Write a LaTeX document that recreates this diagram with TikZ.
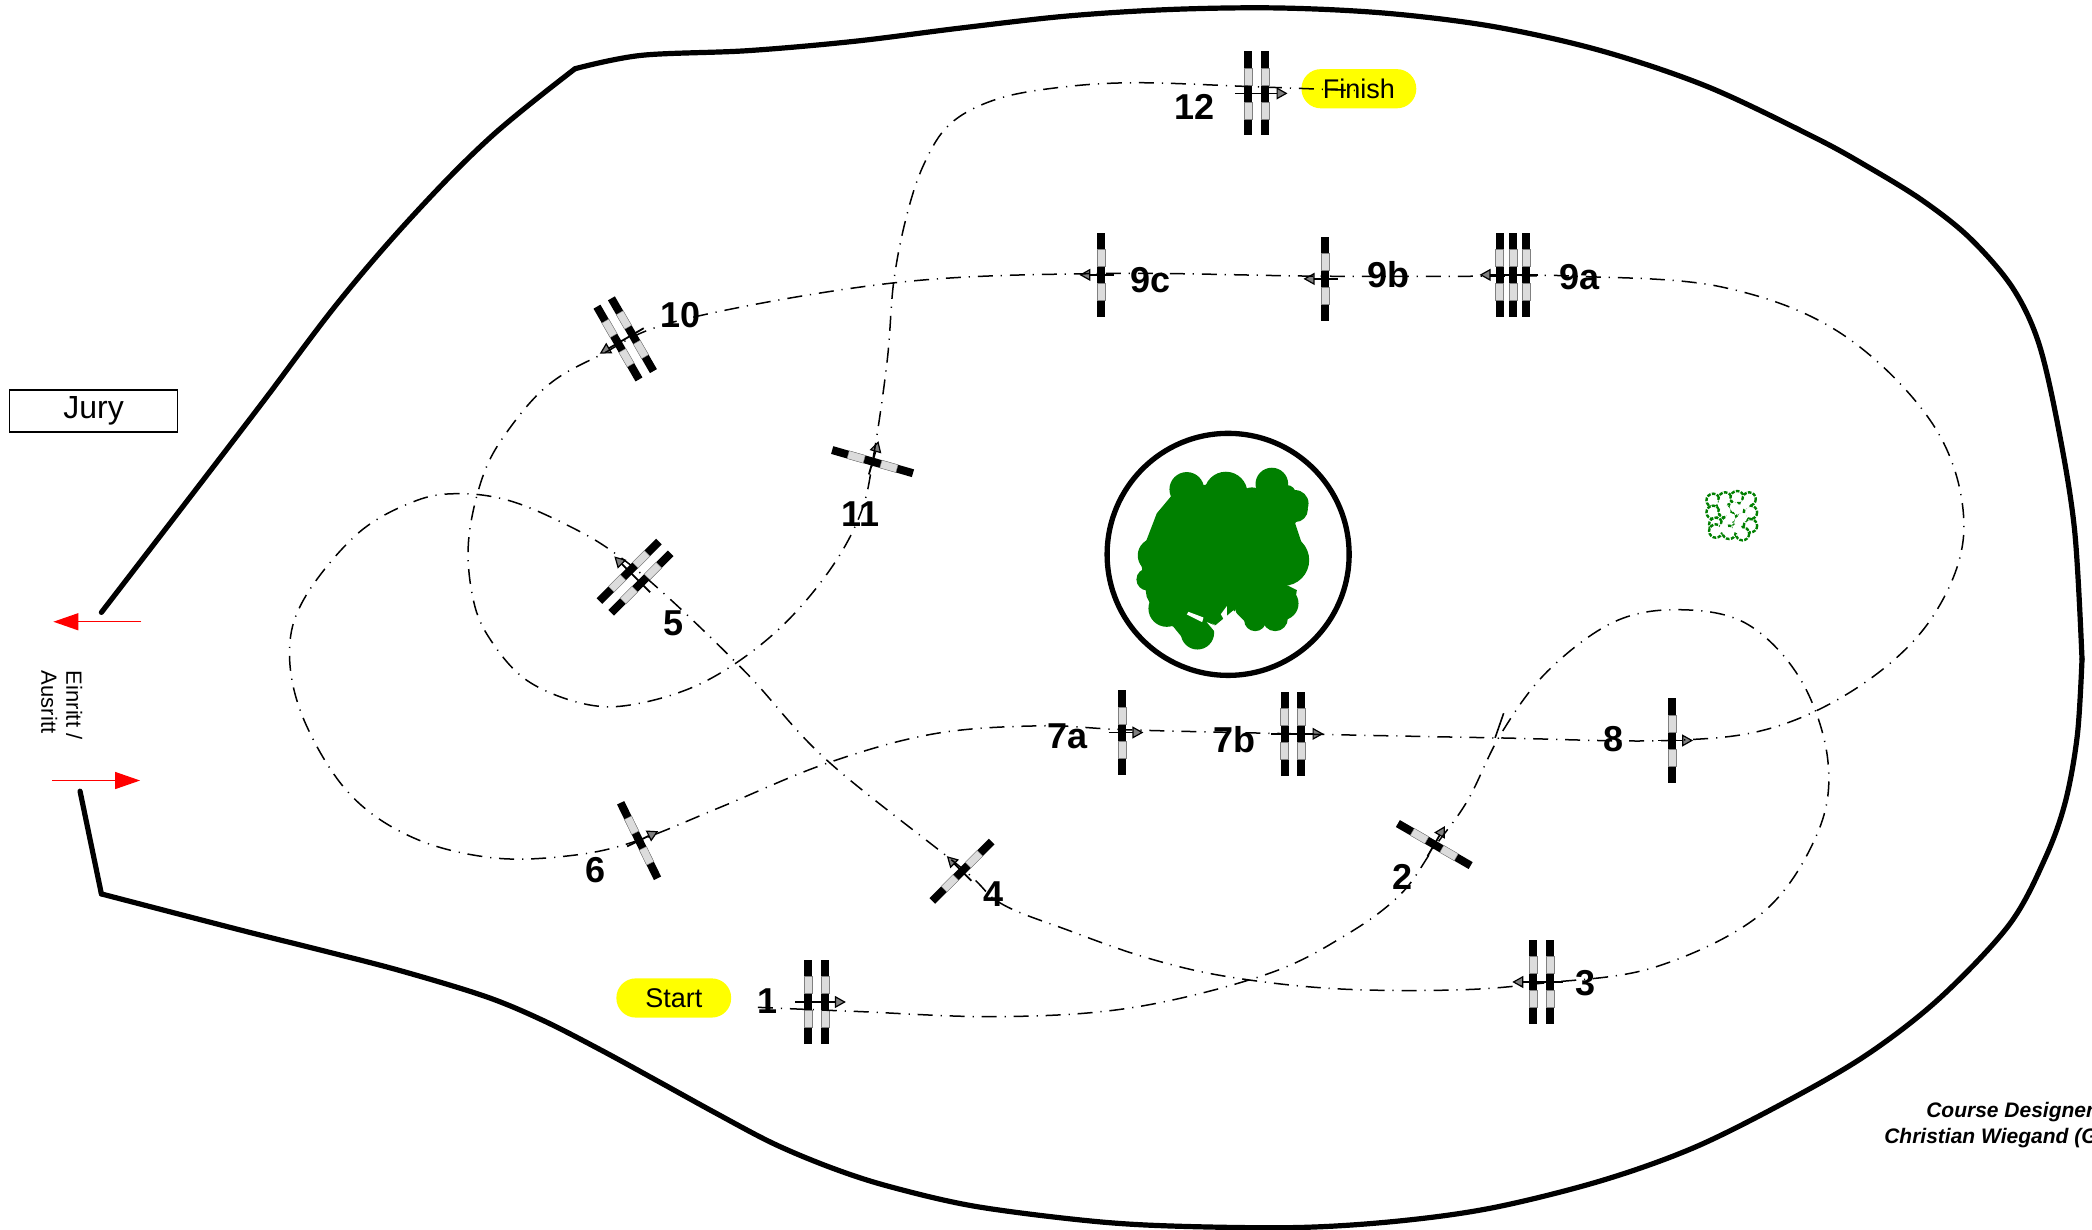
\documentclass[tikz,border=0pt]{standalone}
\usepackage{fontspec}
\setmainfont{Liberation Sans}
\usetikzlibrary{arrows.meta}
\definecolor{treegreen}{HTML}{008000}
\definecolor{pillyellow}{HTML}{FFFF00}
\definecolor{stripe}{HTML}{DCDCDC}
\definecolor{tipgray}{HTML}{808080}
\tikzset{
  ring/.style={line width=2.6pt,line cap=round,line join=round},
  course/.style={line width=.75pt,dash pattern=on 7.5pt off 4pt on .6pt off 3.9pt},
  num/.style={font=\fontsize{18}{19}\selectfont\bfseries,inner sep=0pt},
  pill/.style={fill=pillyellow,rounded corners=9.7pt,minimum width=57.4pt,minimum height=19.6pt,inner sep=0pt,font=\fontsize{13.5}{14}\selectfont},
  jury/.style={draw,line width=.75pt,minimum width=84pt,minimum height=21pt,inner sep=0pt,font=\fontsize{16}{17}\selectfont},
  redarrow/.style={draw=red,line width=.7pt,-{Triangle[length=12.5pt,width=8.5pt,fill=red]}},
  passarrow/.style={line width=.9pt,-{Triangle[length=5.5pt,width=6pt,fill=tipgray,line width=.6pt]}},
  credit/.style={font=\fontsize{10.5}{11}\selectfont\bfseries\itshape,inner sep=0pt},
}
% one fence bar, centred on local x offset #1 and perpendicular to travel
\newcommand{\fencebar}[1]{%
  \fill[black] (#1-3,-31.5) rectangle (#1+3,31.5);
  \filldraw[fill=stripe,draw=gray,line width=.2pt] (#1-3,-19) rectangle (#1+3,-6.5);
  \filldraw[fill=stripe,draw=gray,line width=.2pt] (#1-3,6.5) rectangle (#1+3,19);
}
% x, y, angle of travel, list of bar offsets, arrow tail, arrow head
\newcommand{\fenceat}[6]{%
  \begin{scope}[shift={(#1,#2)},rotate=#3]
    \foreach \o in {#4} {\fencebar{\o}}
    \coordinate (tail) at (#5,0);
    \coordinate (head) at (#6,0);
    \draw[passarrow] (tail) -- (head);
  \end{scope}%
}
\begin{document}
\begin{tikzpicture}[x=0.6671pt,y=-0.6671pt]
\useasboundingbox (0,0) rectangle (1568,921.2);
\fill[white] (0,0) rectangle (1568,921.2);
% arena outline
\draw[ring] plot[smooth,tension=.6] coordinates {(76,459) (136,381) (196.5,302) (254,226) (311,160) (368.6,102) (431,51.5)};
\draw[ring] plot[smooth,tension=.55] coordinates {(431,51.5) (480.5,41.5) (560,38) (640,31) (720,21) (800,12) (880,7) (960,6) (1040,10) (1120,20) (1200,38) (1280,65) (1360,103) (1400,125) (1440.6,150) (1476,178) (1508,215) (1528,257) (1543,322) (1555,398) (1560.5,494)};
\draw[ring] plot[smooth,tension=.55] coordinates {(1560.5,494) (1557,551) (1548,601) (1533,643) (1506,693) (1454,748) (1400,790) (1340,825) (1270,860) (1200,885) (1120,905) (1050,915) (974,920) (880.7,919) (816,915) (730,904) (665.5,889) (622.5,875) (579.5,857) (536,834) (493.4,810.5) (450.4,787) (407.4,765) (364.3,747) (300,727.5) (240,712) (180,697) (76,670)};
\draw[ring] (76,670) -- (60,593);
% central tree in its ring
\draw[line width=2.65pt] (920.5,415.5) circle (90.7);
\begin{scope}[shift={(794.5,307.3)},x=0.1668pt,y=-0.1668pt]
  \fill[treegreen] (340,250) -- (290,310) -- (240,440) -- (260,560) -- (290,620) -- (340,650) -- (385,705) -- (440,700) -- (460,650) -- (520,600) -- (560,640) -- (620,640) -- (700,600) -- (710,540) -- (680,525) -- (745,460) -- (705,340) -- (740,280) -- (680,235) -- (600,240) -- (570,262) -- (440,250) -- cycle;
  \foreach \cx/\cy/\r in {380/238/52,497/250/65,635/222/49,705/280/40,705/298/38,335/335/50,285/436/52,262/508/33,320/595/55,412/668/50,585/630/33,645/625/38,665/580/50,670/450/77,437/257/33,575/272/40,680/252/27}
    {\fill[treegreen] (\cx,\cy) circle [x radius=\r*0.1668pt,y radius=\r*0.1668pt];}
  \fill[white] (385,605) -- (430,622) -- (426,636) -- (380,613) -- cycle;
  \fill[white] (440,636) -- (470,648) -- (462,662) -- cycle;
  \fill[white] (500,588) -- (482,612) -- (492,630) -- (470,648) -- (455,640) -- (500,660) -- cycle;
  \fill[white] (525,598) -- (520,650) -- (545,660) -- cycle;
\end{scope}
% small flowering tree
\foreach \cx/\cy in {1284/375,1293/374,1302/373,1311/374,1284/384,1293/383,1303/382,1312/384,1286/393,1295/392,1304/391,1312/394,1286/398,1296/399,1306/400}
  {\filldraw[fill=white,draw=treegreen,line width=1.2pt,dash pattern=on 1.8pt off .7pt] (\cx,\cy) circle (5);}
\foreach \cx/\cy in {1291/378,1300/380,1308/378,1297/388,1306/388,1292/396,1302/396}
  {\fill[white] (\cx,\cy) circle (3.6);}
% labels that sit beneath the course line
\node[pill] (start) at (505,748) {Start};
\node[pill] (finish) at (1018.5,66.5) {Finish};
\node[jury] (jurybox) at (70.2,308) {\raisebox{-.7pt}{Jury}};
\node[font=\fontsize{11}{12.5}\selectfont,rotate=-90,align=left,inner sep=0pt] (entry) at (46.2,528.5) {Einritt /\\Ausritt};
\coordinate (outL) at (106,466);
\coordinate (outR) at (40,466);
\coordinate (inL) at (39,585);
\coordinate (inR) at (105,585);
\draw[redarrow] (outL) -- (outR);
\draw[redarrow] (inL) -- (inR);
\node[num] (n1) at (575,750) {1};
\node[num] (n2) at (1051,657) {2};
\node[num] (n3) at (1188,737) {3};
\node[num] (n4) at (745,670) {4};
\node[num] (n5) at (505,467) {5};
\node[num] (n6) at (446,652) {6};
\node[num] (n7a) at (800,552) {7a};
\node[num] (n7b) at (925,554) {7b};
\node[num] (n8) at (1209,554) {8};
\node[num] (n9a) at (1184,208) {9a};
\node[num] (n9b) at (1041,206) {9b};
\node[num] (n9c) at (862,210) {9c};
\node[num] (n10) at (510,236) {10};
\node[num] (n11) at (645,385) {11};
\node[num] (n12) at (895,80) {12};
% fences
\fenceat{612}{751}{0}{-6.25,6.25}{-16}{22}
\fenceat{1075}{633}{60}{0}{-10}{16}
\fenceat{1155.5}{736}{180}{-6.25,6.25}{-16}{22}
\fenceat{721}{653}{135}{0}{-10}{16}
\fenceat{476}{432.6}{135}{-6.25,6.25}{-16}{22}
\fenceat{479}{630}{26}{0}{-10}{16}
\fenceat{841}{549}{0}{0}{-10}{16}
\fenceat{969}{550}{0}{-6.25,6.25}{-16}{23}
\fenceat{1253}{555}{0}{0}{-10}{16}
\fenceat{1134}{206}{180}{-10,0,10}{-19}{25}
\fenceat{993}{209}{180}{0}{-10}{16}
\fenceat{825}{206}{180}{0}{-10}{16}
\fenceat{468.6}{254}{210}{-6.25,6.25}{-16}{22}
\fenceat{654}{346}{74}{0}{-10}{16}
\fenceat{942}{70}{0}{-6.25,6.25}{-16}{23}
% course line
\draw[course] plot[smooth,tension=.6] coordinates {
 (568,755) (640,758) (750,762) (850,755) (950,730) (1010,700) (1050,670) (1075,635) (1100,600) (1125,550) (1160,503) (1210,466) (1260,457) (1310,468) (1350,510) (1370,570) (1362,625) (1320,685) (1240,725) (1155,737) (1090,742) (1000,741) (920,732) (860,718) (800,697) (750,677) (720,650) (620,570) (560,505) (500,447) (460,414) (426,394) (383,375.6) (345,370) (311,375.6) (268,400) (228,448.7) (217,490) (228,540) (262,595) (310,628) (370,643) (430,641) (478,630) (540,605) (620,572) (700,550) (780,544) (845,547) (970,550) (1120,553) (1250,555) (1330,545) (1400,510) (1450,460) (1472,395) (1450,320) (1380,250) (1290,215) (1180,207) (1130,207) (990,207) (825,205) (670,212) (510,240) (449,266.6) (411.6,288) (383,319.6) (363,354) (351.4,403) (354,446) (366,477) (395,510) (440,528) (480,527) (530,510) (580,475) (620,430) (645,385) (655,340) (665,270) (670,210) (680,160) (693,122) (712,93) (745,75) (790,66) (850,62) (940,65) (1020,68)};
\coordinate (kinkA) at (1120.6,553);
\coordinate (kinkB) at (1127,534.6);
\draw[line width=.8pt] (kinkA) -- (kinkB);
% credit
\begin{scope}
  \clip (0,0) rectangle (1568,921.2);
  \node[credit,anchor=base west] (credit1) at (1443.5,837.5) {Course Designer};
  \node[credit,anchor=base west] (credit2) at (1412,857) {Christian Wiegand (G};
\end{scope}
\end{tikzpicture}
\end{document}
